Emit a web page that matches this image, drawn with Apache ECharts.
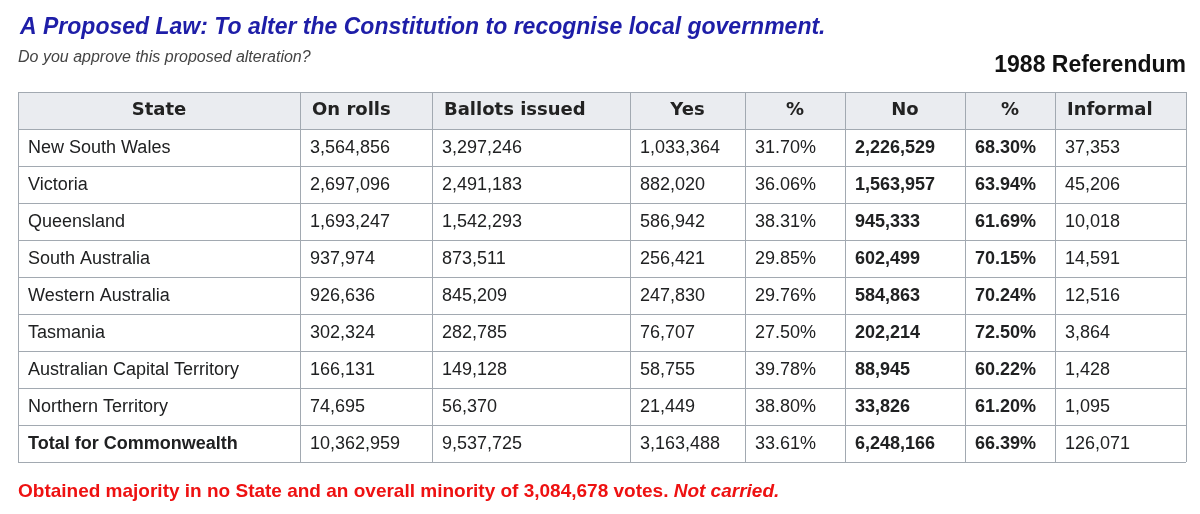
<!DOCTYPE html>
<html><head><meta charset="utf-8">
<script src="https://cdn.jsdelivr.net/npm/echarts@6/dist/echarts.min.js"></script>
<style>html,body{margin:0;padding:0;background:#fff}#c{width:1200px;height:514px}</style>
</head><body><div id="c"></div>
<script>
const headers = ["State","On rolls","Ballots issued","Yes","%","No","%","Informal"];
const states = ["New South Wales","Victoria","Queensland","South Australia","Western Australia","Tasmania","Australian Capital Territory","Northern Territory","Total for Commonwealth"];
const onRolls = ["3,564,856","2,697,096","1,693,247","937,974","926,636","302,324","166,131","74,695","10,362,959"];
const ballots = ["3,297,246","2,491,183","1,542,293","873,511","845,209","282,785","149,128","56,370","9,537,725"];
const yesVotes = ["1,033,364","882,020","586,942","256,421","247,830","76,707","58,755","21,449","3,163,488"];
const yesPct = ["31.70%","36.06%","38.31%","29.85%","29.76%","27.50%","39.78%","38.80%","33.61%"];
const noVotes = ["2,226,529","1,563,957","945,333","602,499","584,863","202,214","88,945","33,826","6,248,166"];
const noPct = ["68.30%","63.94%","61.69%","70.15%","70.24%","72.50%","60.22%","61.20%","66.39%"];
const informal = ["37,353","45,206","10,018","14,591","12,516","3,864","1,428","1,095","126,071"];

(function(){
const columns = [states,onRolls,ballots,yesVotes,yesPct,noVotes,noPct,informal];
const boldCols = [5,6];
const colX = [18,300,432,630,745,845,965,1055,1186];
const tableTop = 92, headH = 37, rowH = 37;
const F = '"Liberation Sans", Arial, sans-serif';
const g = [];
const nRows = states.length;
const bottom = tableTop + headH + rowH*nRows;
g.push({type:'rect',shape:{x:colX[0],y:tableTop,width:colX[8]-colX[0],height:headH},style:{fill:'#eaecf0'}});
for (let i=0;i<=nRows+1;i++){
  const y = i===0?tableTop:tableTop+headH+rowH*(i-1);
  g.push({type:'line',shape:{x1:colX[0],y1:y+0.5,x2:colX[8],y2:y+0.5},style:{stroke:'#a2a9b1',lineWidth:1}});
}
colX.forEach(x=>g.push({type:'line',shape:{x1:x+0.5,y1:tableTop,x2:x+0.5,y2:bottom},style:{stroke:'#a2a9b1',lineWidth:1}}));
headers.forEach((h,c)=>{
  const left = (c===1||c===2||c===7);
  g.push({type:'text',x: left?colX[c]+12:(colX[c]+colX[c+1])/2,y:tableTop+headH/2,
    style:{text:h,font:'bold 18px "DejaVu Sans", Verdana, sans-serif',fill:'#222',align:left?'left':'center',verticalAlign:'middle'}});
});
columns.forEach((col,c)=>{
  col.forEach((v,r)=>{
    const bold = boldCols.includes(c) || (c===0 && r===nRows-1);
    g.push({type:'text',x:colX[c]+10,y:tableTop+headH+rowH*r+rowH/2+1,
      style:{text:v,font:(bold?'bold ':'')+'18px '+F,fill:'#202122',align:'left',verticalAlign:'middle'}});
  });
});
g.push({type:'text',x:20,y:28,style:{text:'A Proposed Law: To alter the Constitution to recognise local government.',font:'italic bold 23px '+F,fill:'#1e1ea8',verticalAlign:'middle'}});
g.push({type:'text',x:18,y:58,style:{text:'Do you approve this proposed alteration?',font:'italic 16px '+F,fill:'#444',verticalAlign:'middle'}});
g.push({type:'text',x:1186,y:66,style:{text:'1988 Referendum',font:'bold 23px '+F,fill:'#111',align:'right',verticalAlign:'middle'}});
g.push({type:'text',x:18,y:492,style:{rich:{a:{font:'bold 19px '+F,fill:'#ee1111'},b:{font:'italic bold 19px '+F,fill:'#ee1111'}},text:'{a|Obtained majority in no State and an overall minority of 3,084,678 votes. }{b|Not carried.}',verticalAlign:'middle'}});
const chart = echarts.init(document.getElementById('c'));
chart.setOption({animation:false,graphic:g});
})();
</script></body></html>
